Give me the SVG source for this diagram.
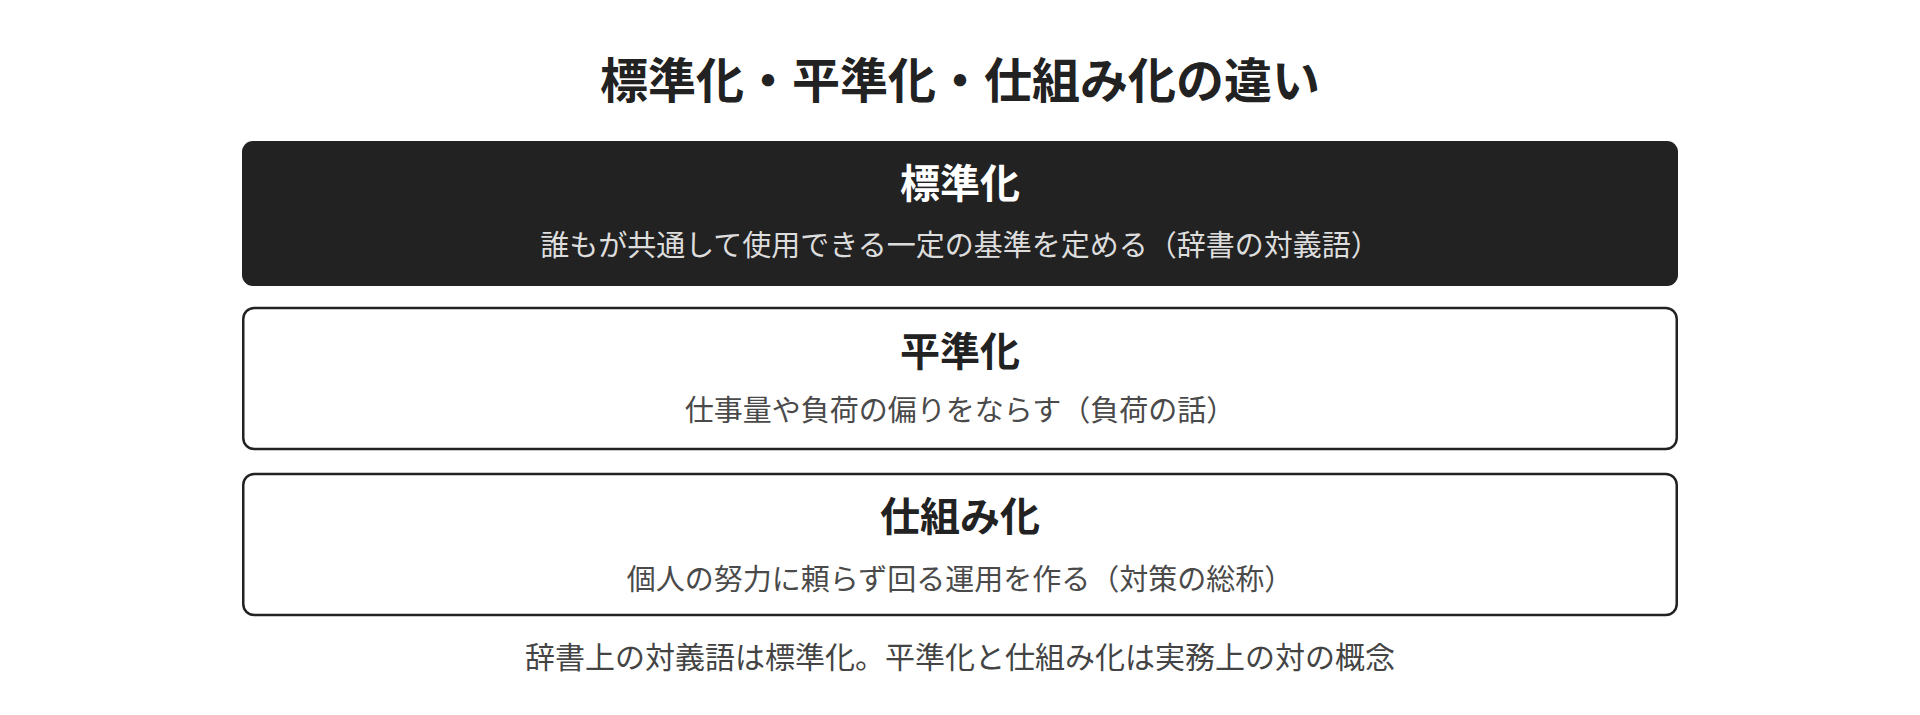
<svg xmlns="http://www.w3.org/2000/svg" width="1920" height="715" viewBox="0 0 1920 715">
  <style>
    text { font-family: "Noto Sans CJK JP", "Noto Sans", sans-serif; text-anchor: middle; }
    .title { font-size: 48px; font-weight: 700; fill: #222222; }
    .head { font-size: 40px; font-weight: 700; fill: #222222; }
    .head-inv { fill: #ffffff; }
    .sub { font-size: 29px; font-weight: 400; fill: #4a4a4a; }
    .sub-inv { fill: #dddddd; }
    .foot { font-size: 30px; font-weight: 400; fill: #444444; }
    .box-dark { fill: #222222; }
    .box-light { fill: #ffffff; stroke: #222222; stroke-width: 2.5; }
  </style>
  <rect width="1920" height="715" fill="#ffffff"/>
  <text class="title" x="960" y="98">標準化・平準化・仕組み化の違い</text>
  <g id="connectors"></g>
  <g id="node-hyoujunka">
    <rect class="box-dark" x="242" y="141" width="1436" height="145" rx="11"/>
    <text class="head head-inv" x="960" y="198">標準化</text>
    <text class="sub sub-inv" x="960" y="256">誰もが共通して使用できる一定の基準を定める（辞書の対義語）</text>
  </g>
  <g id="node-heijunka">
    <rect class="box-light" x="243.25" y="308" width="1433.5" height="141" rx="11"/>
    <text class="head" x="960" y="366">平準化</text>
    <text class="sub" x="960" y="421">仕事量や負荷の偏りをならす（負荷の話）</text>
  </g>
  <g id="node-shikumika">
    <rect class="box-light" x="243.25" y="474" width="1433.5" height="141" rx="11"/>
    <text class="head" x="960" y="531">仕組み化</text>
    <text class="sub" x="960" y="590">個人の努力に頼らず回る運用を作る（対策の総称）</text>
  </g>
  <text class="foot" x="960" y="668">辞書上の対義語は標準化。平準化と仕組み化は実務上の対の概念</text>
</svg>
